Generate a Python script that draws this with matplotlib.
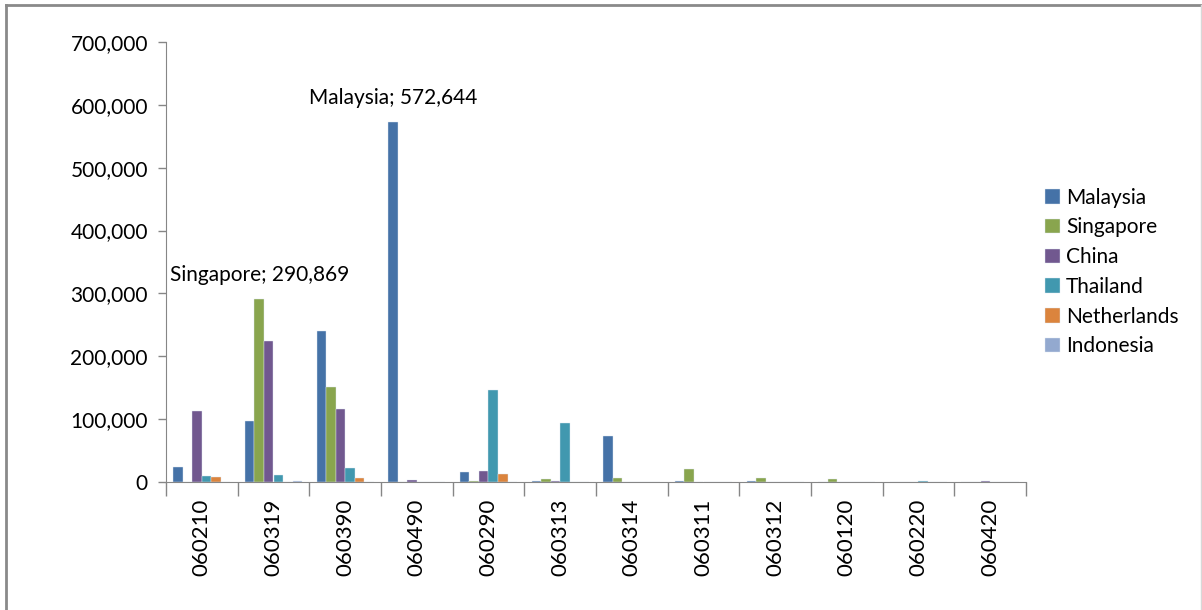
import numpy as np
import matplotlib.pyplot as plt
from matplotlib.patches import Patch
from matplotlib.lines import Line2D
from matplotlib.ticker import FuncFormatter

plt.rcParams['font.family'] = ['Lato', 'DejaVu Sans']

# HS codes and export values per destination
codes = ['060210', '060319', '060390', '060490', '060290', '060313',
         '060314', '060311', '060312', '060120', '060220', '060420']
countries = ['Malaysia', 'Singapore', 'China', 'Thailand', 'Netherlands', 'Indonesia']
malaysia = [23300, 96600, 241000, 572644, 15400, 2000, 73700, 2000, 2000, 0, 0, 0]
singapore = [0, 290869, 150700, 0, 2000, 4800, 6400, 20200, 6400, 4300, 0, 0]
china = [113000, 225000, 116600, 2500, 18000, 2000, 0, 0, 0, 0, 0, 2000]
thailand = [10000, 10700, 21800, 0, 145900, 94300, 0, 0, 0, 0, 2000, 0]
netherlands = [8000, 0, 7000, 0, 12700, 0, 0, 0, 0, 0, 0, 0]
indonesia = [0, 2000, 0, 0, 0, 0, 0, 0, 0, 0, 0, 0]
series = [malaysia, singapore, china, thailand, netherlands, indonesia]
colors = ['#4572A7', '#89A54E', '#71588F', '#4198AF', '#DB843D', '#93A9CF']

fig = plt.figure(figsize=(12.02, 6.1), dpi=100)
ax = fig.add_axes([166/1202, 1 - 482/610, 860/1202, 440/610])

x = np.arange(len(codes))
w = 1 / 7.5
for j, (vals, c) in enumerate(zip(series, colors)):
    ax.bar(x + (j - 2.5) * w, vals, width=w, color=c,
           edgecolor='#dfe7f1', linewidth=0.3)

# value callouts for the two largest bars
ax.annotate('Singapore; 290,869', xy=(1 + (1 - 2.5) * w, singapore[1]),
            xytext=(0, 10), textcoords='offset points',
            ha='center', va='bottom', fontsize=15)
ax.annotate('Malaysia; 572,644', xy=(3 + (0 - 2.5) * w, malaysia[3]),
            xytext=(0, 10), textcoords='offset points',
            ha='center', va='bottom', fontsize=15)

ax.set_xlim(-0.5, len(codes) - 0.5)
ax.set_ylim(0, 700000)
ax.set_yticks(np.arange(0, 700001, 100000))
ax.yaxis.set_major_formatter(FuncFormatter(lambda v, p: f'{int(v):,}'))
ax.tick_params(axis='y', length=6, width=1, color='#868686', pad=7, labelsize=15)

ax.set_xticks(np.arange(-0.5, len(codes)), labels=[''] * (len(codes) + 1))
ax.set_xticks(x, labels=codes, minor=True, rotation=90)
ax.tick_params(axis='x', which='major', length=10, width=1, color='#868686')
ax.tick_params(axis='x', which='minor', length=0, pad=12, labelsize=16)
for lbl in ax.get_xticklabels(minor=True):
    lbl.set_va('top')

for s in ['top', 'right']:
    ax.spines[s].set_visible(False)
for s in ['left', 'bottom']:
    ax.spines[s].set_color('#868686')

handles = [Patch(facecolor=c, edgecolor='#dfe7f1', linewidth=0.3) for c in colors]
fig.legend(handles, countries, loc='center left',
           bbox_to_anchor=(1035/1202, 1 - 272/610), frameon=False,
           fontsize=15, handlelength=0.7, handleheight=0.7,
           handletextpad=0.3, labelspacing=0.47, borderpad=0)

# outer chart frame
fig.add_artist(Line2D([6/1202, 1], [1 - 5/610, 1 - 5/610], color='#8a8a8a', lw=2))
fig.add_artist(Line2D([6/1202, 6/1202], [0, 1 - 5/610], color='#8a8a8a', lw=2))
fig.add_artist(Line2D([1 - 1/1202, 1 - 1/1202], [0, 1 - 5/610], color='#d8d8d8', lw=1))

fig.savefig('out.png', dpi=100)
